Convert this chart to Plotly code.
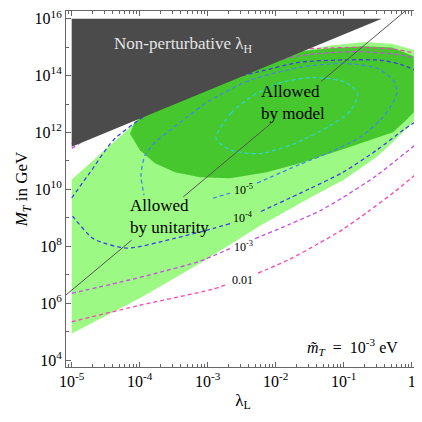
import plotly.graph_objects as go

# ---- data (log10 of lambda_L, log10 of M_T / GeV) ----
nonpert_logl = [-5.0, -0.44, -5.0]
nonpert_logm = [16.0, 16.0, 11.5]

unitarity_logl = [-5.0, -3.95, -1.69, -1.20, -0.69, -0.29, 0.045, 0.045, -0.275, -0.515, -1.01, -1.496, -2.231, -3.113, -4.0, -5.0]
unitarity_logm = [10.35, 12.58, 14.82, 15.06, 15.18, 15.12, 14.89, 12.43, 11.67, 11.14, 10.32, 9.71, 8.72, 7.41, 6.18, 4.94]

model_logl = [-4.143, -3.996, -3.775, -3.481, -3.113, -2.672, -2.132, -1.643, -1.01, -0.275, -0.10, 0.03, 0.03, -0.29, -0.687, -1.2, -1.687, -3.956, -4.08]
model_logm = [11.96, 11.38, 10.92, 10.60, 10.43, 10.39, 10.60, 10.92, 11.41, 12.01, 12.4, 12.7, 14.68, 14.99, 15.03, 14.96, 14.85, 12.6, 12.35]

cyan_logl = [-2.878, -2.657, -2.363, -1.971, -1.481, -0.991, -0.794, -0.893, -1.235, -1.726, -2.216, -2.657, -2.878]
cyan_logm = [11.80, 12.68, 13.25, 13.72, 13.93, 13.78, 13.37, 12.78, 12.19, 11.61, 11.26, 11.38, 11.80]

c1e5_logl = [-2.275, -1.643, -1.201, -0.76, -0.466, -0.319, -0.216, -0.275, -0.51, -1.01, -1.643, -2.378, -2.966,
             -3.304, -3.554, -3.775, -3.922, -3.981, -3.937, None, -2.922, -2.672]
c1e5_logm = [10.22, 10.88, 11.31, 11.83, 12.43, 12.88, 13.41, 13.84, 14.26, 14.43, 14.29, 13.84, 13.13,
             12.54, 12.08, 11.66, 11.20, 10.50, 9.80, None, 9.69, 9.87]

c1e4_logl = [-5.0, -4.73, -4.388, -3.947, -3.3, -2.275, -1.643, -1.01, -0.466, -0.172, 0.049, None,
             0.049, -0.128, -0.515, -1.006, -1.496, -2.231, None, -2.672, -2.918, -3.506, -4.191, -4.682, -4.976, -5.0]
c1e4_logm = [9.70, 10.60, 11.73, 12.55, 13.5, 14.12, 14.47, 14.55, 14.54, 14.40, 14.19, None,
             12.37, 12.08, 11.38, 10.61, 10.03, 9.21, None, 8.80, 8.63, 8.27, 7.94, 8.27, 9.03, 9.10]

c1e3_logl = [-5.0, -3.849, -2.378, -1.79, -1.349, -0.76, -0.245, 0.07, None,
             -5.0, -4.29, -3.701, -3.113, -2.628, None, -2.304, -1.79, -1.349, -1.01, -0.51, 0.07]
c1e3_logm = [11.44, 13.13, 14.26, 14.64, 14.78, 14.84, 14.75, 14.60, None,
             6.35, 6.74, 7.09, 7.48, 7.97, None, 8.27, 8.78, 9.25, 9.72, 10.50, 11.60]

c1e2_logl = [-5.0, -3.85, -1.643, -1.349, -0.76, -0.245, 0.07, None,
             -5.0, -3.996, -2.951, -2.701, None, -2.26, -1.79, -1.378, -1.01, -0.643, -0.246, 0.07]
c1e2_logm = [11.6, 13.3, 14.92, 14.96, 14.99, 14.92, 14.78, None,
             5.35, 5.93, 6.48, 6.67, None, 7.06, 7.55, 8.09, 8.60, 9.22, 9.93, 10.55]

diag_logl = [-5.2, -4.118, None, -3.359, -2.069, None, -1.334, 0.0]
diag_logm = [6.06, 8.22, None, 9.74, 12.32, None, 13.79, 16.46]

x_tick_vals = [1e-5, 1e-4, 1e-3, 1e-2, 1e-1, 1]
x_tick_text = ["10<sup>-5</sup>", "10<sup>-4</sup>", "10<sup>-3</sup>", "10<sup>-2</sup>", "10<sup>-1</sup>", "1"]
y_tick_vals = [1e4, 1e6, 1e8, 1e10, 1e12, 1e14, 1e16]
y_tick_text = ["10<sup>4</sup>", "10<sup>6</sup>", "10<sup>8</sup>", "10<sup>10</sup>",
               "10<sup>12</sup>", "10<sup>14</sup>", "10<sup>16</sup>"]
x_minor = [m * 10.0 ** k for k in range(-6, 1) for m in range(2, 10)]
y_minor = [10.0 ** k for k in range(5, 16, 2)]


def pw(arr):
    return [None if a is None else 10.0 ** a for a in arr]


FONT = "Liberation Serif"
NB = "\u00a0"
fig = go.Figure()

fig.add_trace(go.Scatter(x=pw(unitarity_logl), y=pw(unitarity_logm), fill="toself", mode="lines",
                         line=dict(width=0), fillcolor="#9cfa84", hoverinfo="skip"))
fig.add_trace(go.Scatter(x=pw(model_logl), y=pw(model_logm), fill="toself", mode="lines",
                         line=dict(width=0), fillcolor="#46c72e", hoverinfo="skip"))

dash = "4px,3px"
for lx, ly, col in [(cyan_logl, cyan_logm, "#2fd2cc"),
                    (c1e5_logl, c1e5_logm, "#4287ec"),
                    (c1e4_logl, c1e4_logm, "#3f3fe6"),
                    (c1e3_logl, c1e3_logm, "#c84be8"),
                    (c1e2_logl, c1e2_logm, "#f846b6")]:
    fig.add_trace(go.Scatter(x=pw(lx), y=pw(ly), mode="lines", connectgaps=False,
                             line=dict(color=col, width=1.3, dash=dash, shape="spline", smoothing=0.7),
                             hoverinfo="skip"))

fig.add_trace(go.Scatter(x=pw(nonpert_logl), y=pw(nonpert_logm), fill="toself", mode="lines",
                         line=dict(width=0), fillcolor="#4b4b4b", hoverinfo="skip"))
fig.add_trace(go.Scatter(x=pw(diag_logl), y=pw(diag_logm), mode="lines", connectgaps=False,
                         line=dict(color="#555555", width=1), hoverinfo="skip"))

ann = [
    dict(x=-3.36, y=15.06, text="Non-perturbative λ<sub>H</sub>", font=dict(size=17, color="#e4e4e4")),
    dict(x=-2.246, y=13.06, text="Allowed<br>by model", xanchor="left", align="left", font=dict(size=17)),
    dict(x=-4.172, y=9.04, text="Allowed<br>by unitarity", xanchor="left", align="left", font=dict(size=17)),
    dict(x=-2.481, y=10.01, text="10<sup>-5</sup>", font=dict(size=12)),
    dict(x=-2.481, y=9.02, text="10<sup>-4</sup>", font=dict(size=12)),
    dict(x=-2.481, y=8.00, text="10<sup>-3</sup>", font=dict(size=12)),
    dict(x=-2.493, y=6.81, text="0.01", font=dict(size=12)),
    dict(x=-0.878, y=4.46,
         text="<i>m̃</i><sub><i>T</i></sub>" + NB * 2 + "=" + NB * 2 + "10<sup>-3</sup> eV",
         font=dict(size=16)),
]
for a in ann:
    a.setdefault("xanchor", "center")
    a["yanchor"] = "middle"
    a["showarrow"] = False
    a["xref"] = "x"
    a["yref"] = "y"
    a["font"].setdefault("color", "black")
    a["font"]["family"] = FONT
    fig.add_annotation(**a)

axis_common = dict(type="log", showgrid=False, zeroline=False, showline=True, linecolor="#666666",
                   linewidth=1, mirror="ticks", ticks="inside", ticklen=5, tickcolor="#666666",
                   automargin=False, ticklabeloverflow="allow",
                   tickfont=dict(family=FONT, size=16, color="black"))
fig.update_xaxes(range=[-5.084, 0.122], tickvals=x_tick_vals, ticktext=x_tick_text,
                 minor=dict(tickvals=x_minor, ticks="inside", ticklen=3, tickcolor="#666666", showgrid=False),
                 title=dict(text="λ<sub>L</sub>", font=dict(family=FONT, size=17, color="black"), standoff=4),
                 **axis_common)
fig.update_yaxes(range=[3.76, 16.27], tickvals=y_tick_vals, ticktext=y_tick_text,
                 minor=dict(tickvals=y_minor, ticks="inside", ticklen=3, tickcolor="#666666", showgrid=False),
                 title=dict(text="<i>M<sub>T</sub></i> in GeV", font=dict(family=FONT, size=17, color="black"), standoff=2),
                 **axis_common)
# the page body adds an 8 px offset; the figure size and margins compensate for it
fig.update_layout(width=414, height=414, margin=dict(l=58, r=2, t=3, b=55, autoexpand=False),
                  font=dict(family=FONT),
                  plot_bgcolor="white", paper_bgcolor="white", showlegend=False)
fig.write_html("out.html")
